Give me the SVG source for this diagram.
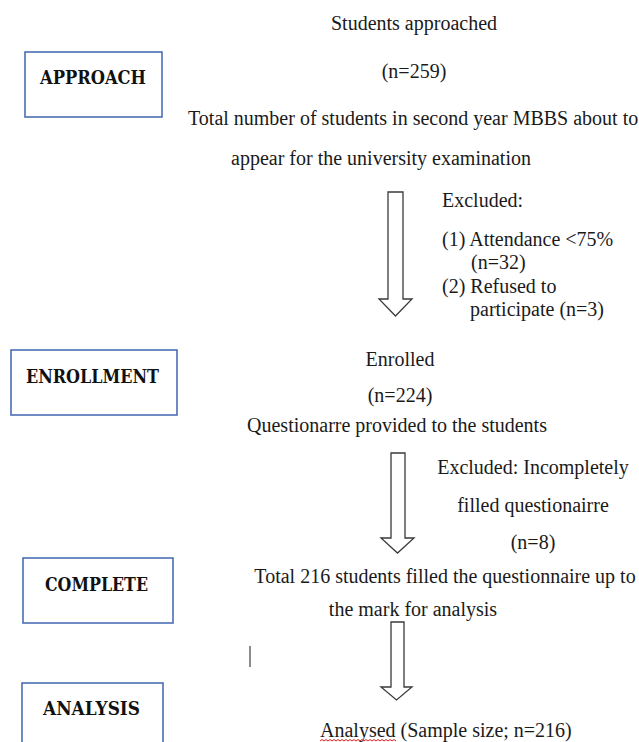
<svg xmlns="http://www.w3.org/2000/svg" width="639" height="742" viewBox="0 0 639 742">
<style>
.box{fill:#fff;stroke:#4a6fb5;stroke-width:1.6}
.lbl{font-family:"DejaVu Serif","Liberation Serif",serif;font-weight:bold;font-size:18.5px;fill:#111}
.t{font-family:"Liberation Serif","Times New Roman",serif;font-size:20px;fill:#1a1a1a}
.arr{fill:#fff;stroke:#3a3a3a;stroke-width:1.3;stroke-linejoin:miter}
</style>
<rect width="639" height="742" fill="#fff"/>
<g id="n-approach">
<rect class="box" x="25" y="52" width="137" height="65"/>
<text class="lbl" x="40" y="84" textLength="106" lengthAdjust="spacingAndGlyphs">APPROACH</text>
</g>
<g id="n-enrollment">
<rect class="box" x="11" y="350" width="166" height="65"/>
<text class="lbl" x="26" y="383" textLength="133" lengthAdjust="spacingAndGlyphs">ENROLLMENT</text>
</g>
<g id="n-complete">
<rect class="box" x="23" y="558" width="150" height="65"/>
<text class="lbl" x="45" y="591" textLength="103" lengthAdjust="spacingAndGlyphs">COMPLETE</text>
</g>
<g id="n-analysis">
<rect class="box" x="22" y="683" width="141" height="70"/>
<text class="lbl" x="43" y="715" textLength="97" lengthAdjust="spacingAndGlyphs">ANALYSIS</text>
</g>
<g id="s-approached">
<text class="t" x="414" y="30" text-anchor="middle">Students approached</text>
<text class="t" x="414" y="78" text-anchor="middle">(n=259)</text>
<text class="t" x="188" y="125">Total number of students in second year MBBS about to</text>
<text class="t" x="381" y="165" text-anchor="middle">appear for the university examination</text>
</g>
<g id="s-excluded1">
<text class="t" x="442" y="207">Excluded:</text>
<text class="t" x="442" y="246">(1) Attendance &lt;75%</text>
<text class="t" x="471" y="269">(n=32)</text>
<text class="t" x="442" y="293">(2) Refused to</text>
<text class="t" x="470" y="316">participate (n=3)</text>
</g>
<g id="s-enrolled">
<text class="t" x="400" y="366" text-anchor="middle">Enrolled</text>
<text class="t" x="400" y="402" text-anchor="middle">(n=224)</text>
<text class="t" x="397" y="432" text-anchor="middle">Questionarre provided to the students</text>
</g>
<g id="s-excluded2">
<text class="t" x="533" y="474" text-anchor="middle">Excluded: Incompletely</text>
<text class="t" x="533" y="512" text-anchor="middle">filled questionairre</text>
<text class="t" x="533" y="549" text-anchor="middle">(n=8)</text>
</g>
<g id="s-total216">
<text class="t" x="445" y="583" text-anchor="middle">Total 216 students filled the questionnaire up to</text>
<text class="t" x="413" y="616" text-anchor="middle">the mark for analysis</text>
</g>
<g id="s-analysed">
<text class="t" x="320" y="737">Analysed (Sample size; n=216)</text>
<path d="M320 741 l2 -1.5 l2 1.5 l2 -1.5 l2 1.5 l2 -1.5 l2 1.5 l2 -1.5 l2 1.5 l2 -1.5 l2 1.5 l2 -1.5 l2 1.5 l2 -1.5 l2 1.5 l2 -1.5 l2 1.5 l2 -1.5 l2 1.5 l2 -1.5 l2 1.5 l2 -1.5 l2 1.5 l2 -1.5 l2 1.5 l2 -1.5 l2 1.5 l2 -1.5 l2 1.5 l2 -1.5 l2 1.5 l2 -1.5 l2 1.5 l2 -1.5 l2 1.5 l2 -1.5 l2 1.5 l2 -1.5 l2 1.5" fill="none" stroke="#e02020" stroke-width="1"/>
</g>
<line x1="250" y1="646" x2="250" y2="667" stroke="#666" stroke-width="1.5"/>
<g id="connectors">
<path class="arr" d="M388 192 H403 V299 H412 L395.5 316 L379 299 H388 Z"/>
<path class="arr" d="M391 453 H405 V538 H414 L397.5 553 L381 538 H391 Z"/>
<path class="arr" d="M391 622 H404 V687 H412 L396.5 700 L381 687 H391 Z"/>
</g>
</svg>
